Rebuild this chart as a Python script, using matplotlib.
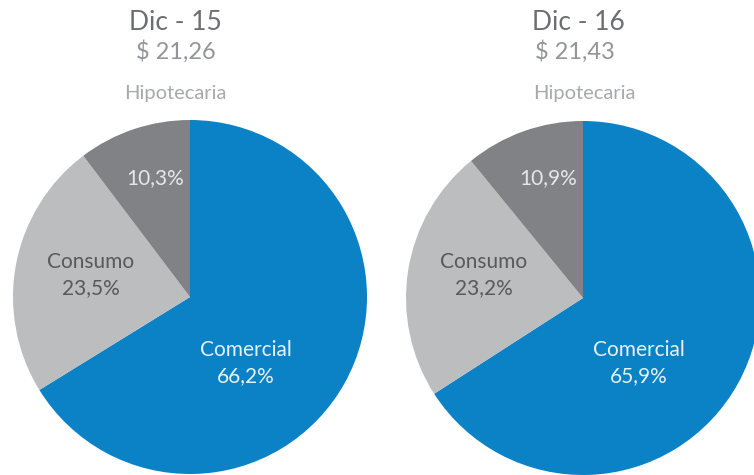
import matplotlib
matplotlib.use("Agg")
import matplotlib.pyplot as plt

categories = ["Comercial", "Consumo", "Hipotecaria"]
periods = ["Dic - 15", "Dic - 16"]
totals = ["$ 21,26", "$ 21,43"]
values_15 = [66.2, 23.5, 10.3]
values_16 = [65.9, 23.2, 10.9]

colors = ["#0B81C6", "#BCBDBF", "#808285"]
FONT = "Lato"
LW = "normal"

fig = plt.figure(figsize=(7.54, 4.75), dpi=100)
ax = fig.add_axes([0, 0, 1, 1])

def Y(py):
    return 475 - py

def fmt(v):
    return f"{v:.1f}".replace(".", ",") + "%"

layouts = [
    dict(cx=190, cy=297, title_x=175, tot_x=176, hip_x=175),
    dict(cx=583, cy=298, title_x=578, tot_x=575, hip_x=584),
]

for vals, per, tot, lay in zip([values_15, values_16], periods, totals, layouts):
    cx, cy = lay["cx"], lay["cy"]
    ax.pie(vals, colors=colors, startangle=90, counterclock=False,
           center=(cx, Y(cy)), radius=177, frame=True,
           wedgeprops=dict(linewidth=0))
    ax.text(lay["title_x"], Y(22), per, ha="center", va="center",
            fontsize=19, color="#6D6E71", family=FONT)
    ax.text(lay["tot_x"], Y(52), tot, ha="center", va="center",
            fontsize=17, color="#939598", family=FONT, fontweight=LW)
    ax.text(lay["hip_x"], Y(94), categories[2], ha="center", va="center",
            fontsize=14.5, color="#A7A9AC", family=FONT, fontweight=LW)
    # Hipotecaria pct
    ax.text(cx - 35, Y(178), fmt(vals[2]), ha="center", va="center",
            fontsize=15, color="#E6E7E8", family=FONT, fontweight=LW)
    # Consumo
    ax.text(cx - 99, Y(262), categories[1], ha="center", va="center",
            fontsize=15, color="#58595B", family=FONT, fontweight=LW)
    ax.text(cx - 99, Y(288), fmt(vals[1]), ha="center", va="center",
            fontsize=15, color="#58595B", family=FONT, fontweight=LW)
    # Comercial
    ax.text(cx + 56, Y(350), categories[0], ha="center", va="center",
            fontsize=15, color="#E6F1F8", family=FONT, fontweight=LW)
    ax.text(cx + 56, Y(376), fmt(vals[0]), ha="center", va="center",
            fontsize=15, color="#E6F1F8", family=FONT, fontweight=LW)

ax.set_xlim(0, 754)
ax.set_ylim(0, 475)
ax.set_aspect("equal")
ax.axis("off")

fig.savefig("out.png", dpi=100)
